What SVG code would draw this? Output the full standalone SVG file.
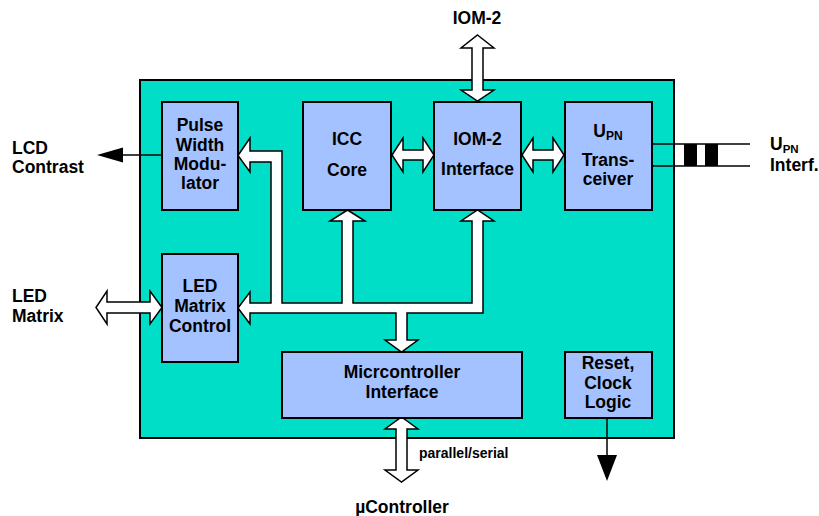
<svg xmlns="http://www.w3.org/2000/svg" width="819" height="516" viewBox="0 0 819 516">
<style>
text{font-family:"Liberation Sans",Arial,sans-serif;font-weight:bold;font-size:17.5px;fill:#000}
.c{text-anchor:middle}
.blk{fill:#a4c2ff;stroke:#000;stroke-width:2}
.ar{fill:#fff;stroke:#000;stroke-width:1.5;stroke-linejoin:miter}
.ln{stroke:#000;stroke-width:1.5;fill:none}
.hd{fill:#000;stroke:none}
</style>
<rect width="819" height="516" fill="#fff"/>
<g id="chip"><rect x="140" y="80" width="534" height="358" fill="#00dec8" stroke="#000" stroke-width="2"/></g>

<g id="connectors">
  <!-- internal bus -->
  <polygon class="ar" points="238,155.5 250,138 250,151 282,151 282,303 342,303 342,221 330,221 347.5,210 365,221 353,221 353,303 472,303 472,221 461,221 477.5,210 494,221 483,221 483,313 407,313 407,340 418,340 401.5,352 385,340 396,340 396,313 250,313 250,324 238,308 250,292 250,303 271,303 271,162 250,162 250,172"/>
  <!-- ICC <-> IOM-2 -->
  <polygon class="ar" points="392,155 403,138 403,150 423,150 423,138 434,155 423,172 423,160 403,160 403,172"/>
  <!-- IOM-2 <-> UPN -->
  <polygon class="ar" points="522,155 533,138 533,150 553,150 553,138 564,155 553,172 553,160 533,160 533,172"/>
  <!-- IOM-2 external -->
  <polygon class="ar" points="477.5,35 494,48 483,48 483,90 494,90 477.5,101 461,90 472,90 472,48 461,48"/>
  <!-- LED Matrix external -->
  <polygon class="ar" points="96,307.5 107,291 107,302 150,302 150,291 162,307.5 150,324 150,313 107,313 107,324"/>
  <!-- microcontroller external -->
  <polygon class="ar" points="401.5,417 418,429 407,429 407,470 418,470 401.5,482 385,470 396,470 396,429 385,429"/>
  <!-- LCD contrast -->
  <line class="ln" x1="162" y1="155" x2="120" y2="155"/>
  <polygon class="hd" points="97,155 123,147.5 123,162.5"/>
  <!-- reset out -->
  <line class="ln" x1="607" y1="418" x2="607" y2="458"/>
  <polygon class="hd" points="597,455 617,455 607,481"/>
  <!-- UPN interface -->
  <line class="ln" x1="652" y1="144" x2="750" y2="144"/>
  <line class="ln" x1="652" y1="166" x2="750" y2="166"/>
  <rect x="684" y="144" width="13" height="22" fill="#000"/>
  <rect x="705" y="144" width="13" height="22" fill="#000"/>
</g>

<g id="pwm"><rect class="blk" x="162" y="102" width="76" height="108"/>
<text class="c" x="200" y="131">Pulse</text><text class="c" x="200" y="151">Width</text><text class="c" x="200" y="170">Modu-</text><text class="c" x="200" y="189">lator</text></g>

<g id="icc"><rect class="blk" x="303" y="102" width="88" height="108"/>
<text class="c" x="347" y="145">ICC</text><text class="c" x="347" y="176">Core</text></g>

<g id="iom2if"><rect class="blk" x="434" y="102" width="87" height="108"/>
<text class="c" x="477.5" y="145">IOM-2</text><text class="c" x="477.5" y="175">Interface</text></g>

<g id="upn"><rect class="blk" x="565" y="102" width="87" height="108"/>
<text class="c" x="608" y="137">U<tspan font-size="12" dy="3">PN</tspan></text>
<text class="c" x="608" y="166">Trans-</text><text class="c" x="608" y="184.5">ceiver</text></g>

<g id="led"><rect class="blk" x="162" y="254" width="76" height="108"/>
<text class="c" x="200" y="292">LED</text><text class="c" x="200" y="312">Matrix</text><text class="c" x="200" y="332">Control</text></g>

<g id="mcif"><rect class="blk" x="282" y="352" width="240" height="66"/>
<text class="c" x="402" y="378">Micrcontroller</text><text class="c" x="402" y="398">Interface</text></g>

<g id="reset"><rect class="blk" x="565" y="352" width="87" height="66"/>
<text class="c" x="608" y="369">Reset,</text><text class="c" x="608" y="389">Clock</text><text class="c" x="608" y="408">Logic</text></g>

<g id="labels">
<text class="c" x="477" y="24">IOM-2</text>
<text x="12" y="154">LCD</text><text x="12" y="173">Contrast</text>
<text x="12" y="302">LED</text><text x="12" y="322">Matrix</text>
<text x="770" y="150">U<tspan font-size="11.5" dy="3">PN</tspan></text><text x="770" y="171">Interf.</text>
<text x="419" y="458" style="font-size:14px">parallel/serial</text>
<text class="c" x="402" y="513">µController</text>
</g>
</svg>
